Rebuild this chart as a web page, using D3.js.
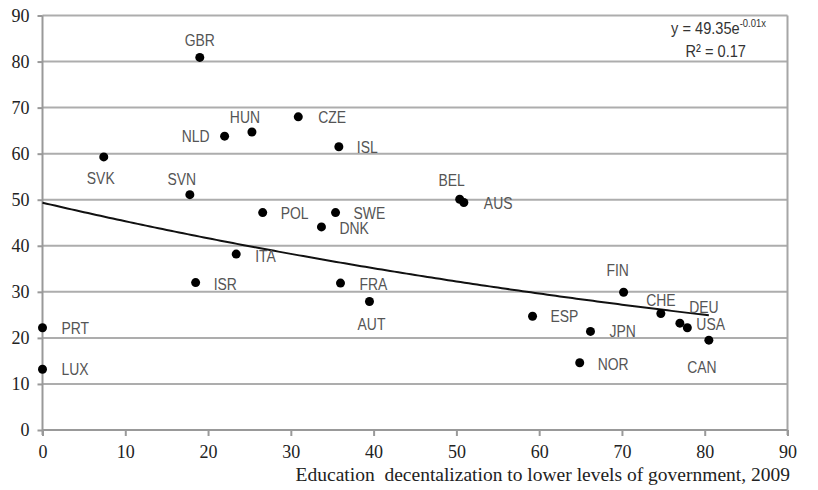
<!DOCTYPE html>
<html>
<head>
<meta charset="utf-8">
<script src="https://cdn.jsdelivr.net/npm/d3@7"></script>
<style>
  body { margin: 0; background: #fff; }
</style>
</head>
<body>
<script>
// data
const countries = ['GBR','NLD','HUN','CZE','ISL','SVK','SVN','BEL','AUS','POL','SWE','DNK','ITA','ISR','FRA','AUT','ESP','JPN','NOR','FIN','CHE','DEU','USA','CAN','PRT','LUX'];
const decentral = [19.0, 22.0, 25.3, 30.9, 35.8, 7.4, 17.8, 50.4, 50.9, 26.6, 35.4, 33.7, 23.4, 18.5, 36.0, 39.5, 59.2, 66.2, 64.9, 70.2, 74.7, 77.0, 77.9, 80.5, 0, 0];
const score     = [80.9, 63.8, 64.7, 68.0, 61.5, 59.3, 51.1, 50.1, 49.4, 47.2, 47.2, 44.1, 38.2, 32.0, 31.9, 27.9, 24.7, 21.4, 14.6, 29.9, 25.3, 23.2, 22.2, 19.5, 22.2, 13.2];
const xTicks = [0,10,20,30,40,50,60,70,80,90];
const yTicks = [0,10,20,30,40,50,60,70,80,90];
const trendA = 49.35, trendK = -0.0085; // fitted curve (label shows rounded -0.01)
const xTitle = 'Education\u00a0 decentalization to lower levels of government, 2009';

// where each country label sits relative to its dot
const labelPos = {
  GBR:{dx:0,dy:-11,a:'middle'}, NLD:{dx:-15,dy:6,a:'end'}, HUN:{dx:-7,dy:-9,a:'middle'},
  CZE:{dx:20,dy:6,a:'start'}, ISL:{dx:18,dy:6,a:'start'}, SVK:{dx:-3,dy:27,a:'middle'},
  SVN:{dx:-8,dy:-10,a:'middle'}, BEL:{dx:-8,dy:-13,a:'middle'}, AUS:{dx:20,dy:7,a:'start'},
  POL:{dx:18,dy:6,a:'start'}, SWE:{dx:18,dy:6,a:'start'}, DNK:{dx:18,dy:7,a:'start'},
  ITA:{dx:19,dy:8,a:'start'}, ISR:{dx:18,dy:7,a:'start'}, FRA:{dx:19,dy:7,a:'start'},
  AUT:{dx:2,dy:28,a:'middle'}, ESP:{dx:18,dy:6,a:'start'}, JPN:{dx:19,dy:6,a:'start'},
  NOR:{dx:18,dy:7,a:'start'}, FIN:{dx:-6,dy:-16,a:'middle'}, CHE:{dx:0,dy:-7,a:'middle'},
  DEU:{dx:24,dy:-10,a:'middle'}, USA:{dx:9,dy:2,a:'start'}, CAN:{dx:-7,dy:33,a:'middle'},
  PRT:{dx:19,dy:6,a:'start'}, LUX:{dx:19,dy:6,a:'start'}
};

const serif = "'Liberation Serif', 'Times New Roman', serif";
const sans = "'Liberation Sans', Arial, sans-serif";

const W = 818, H = 490;
const svg = d3.select('body').append('svg').attr('width', W).attr('height', H);
svg.append('rect').attr('width', W).attr('height', H).attr('fill', '#fff');

const x = d3.scaleLinear().domain([0, 90]).range([42.5, 787.5]);
const y = d3.scaleLinear().domain([0, 90]).range([430, 15.5]);

// horizontal gridlines
svg.append('g').selectAll('line').data(yTicks.filter(d => d > 0)).join('line')
  .attr('x1', x(0)).attr('x2', x(90))
  .attr('y1', d => y(d)).attr('y2', d => y(d))
  .attr('stroke', '#adadad').attr('stroke-width', 2);

// right border
svg.append('line').attr('x1', x(90)).attr('x2', x(90)).attr('y1', y(90)).attr('y2', y(0) + 5)
  .attr('stroke', '#a6a6a6').attr('stroke-width', 2);

// y axis
const yAxis = svg.append('g').attr('transform', `translate(${x(0)},0)`)
  .call(d3.axisLeft(y).tickValues(yTicks).tickSize(5).tickPadding(8).tickFormat(d3.format('d')));
yAxis.select('.domain').attr('stroke', '#999').attr('stroke-width', 2).attr('d', `M0,${y(90)}V${y(0) + 5}`);
yAxis.selectAll('.tick line').attr('stroke', '#999').attr('stroke-width', 2);
yAxis.selectAll('.tick text').style('font-family', serif).style('font-size', '18px').style('fill', '#222');

// x axis
const xAxis = svg.append('g').attr('transform', `translate(0,${y(0)})`)
  .call(d3.axisBottom(x).tickValues(xTicks).tickSize(6).tickPadding(9).tickFormat(d3.format('d')));
xAxis.select('.domain').attr('stroke', '#999').attr('stroke-width', 2).attr('d', `M${x(0)},0H${x(90)}`);
xAxis.selectAll('.tick line').attr('stroke', '#999').attr('stroke-width', 2);
xAxis.selectAll('.tick text').style('font-family', serif).style('font-size', '18px').style('fill', '#222');

svg.append('text').attr('x', 790).attr('y', 481)
  .attr('text-anchor', 'end')
  .style('font-family', serif).style('font-size', '19.5px').style('fill', '#222')
  .text(xTitle);

// trend line
const maxX = d3.max(decentral);
const trend = d3.range(0, maxX + 0.01, 0.5).map(v => [v, trendA * Math.exp(trendK * v)]);
svg.append('path').datum(trend)
  .attr('d', d3.line().x(d => x(d[0])).y(d => y(d[1])))
  .attr('fill', 'none').attr('stroke', '#111').attr('stroke-width', 2);

// points
const pts = countries.map((c, i) => ({ c, x: decentral[i], y: score[i] }));
svg.append('g').selectAll('circle').data(pts).join('circle')
  .attr('cx', d => x(d.x)).attr('cy', d => y(d.y)).attr('r', 4.5).attr('fill', '#000');

// labels, squeezed horizontally to look like a narrow face
svg.append('g').selectAll('text').data(pts).join('text')
  .attr('transform', d => `translate(${x(d.x) + labelPos[d.c].dx},${y(d.y) + labelPos[d.c].dy}) scale(0.82,1)`)
  .attr('text-anchor', d => labelPos[d.c].a)
  .style('font-family', sans).style('font-size', '17px').style('fill', '#555')
  .text(d => d.c);

// equation text
const eq = svg.append('text').attr('transform', 'translate(766,34) scale(0.86,1)').attr('text-anchor', 'end')
  .style('font-family', sans).style('font-size', '17px').style('fill', '#333');
eq.append('tspan').text('y = 49.35e');
eq.append('tspan').attr('dy', -7).style('font-size', '11px').text('-0.01x');
svg.append('text').attr('transform', 'translate(746,57) scale(0.86,1)').attr('text-anchor', 'end')
  .style('font-family', sans).style('font-size', '17px').style('fill', '#333')
  .text('R\u00b2 = 0.17');
</script>
</body>
</html>
